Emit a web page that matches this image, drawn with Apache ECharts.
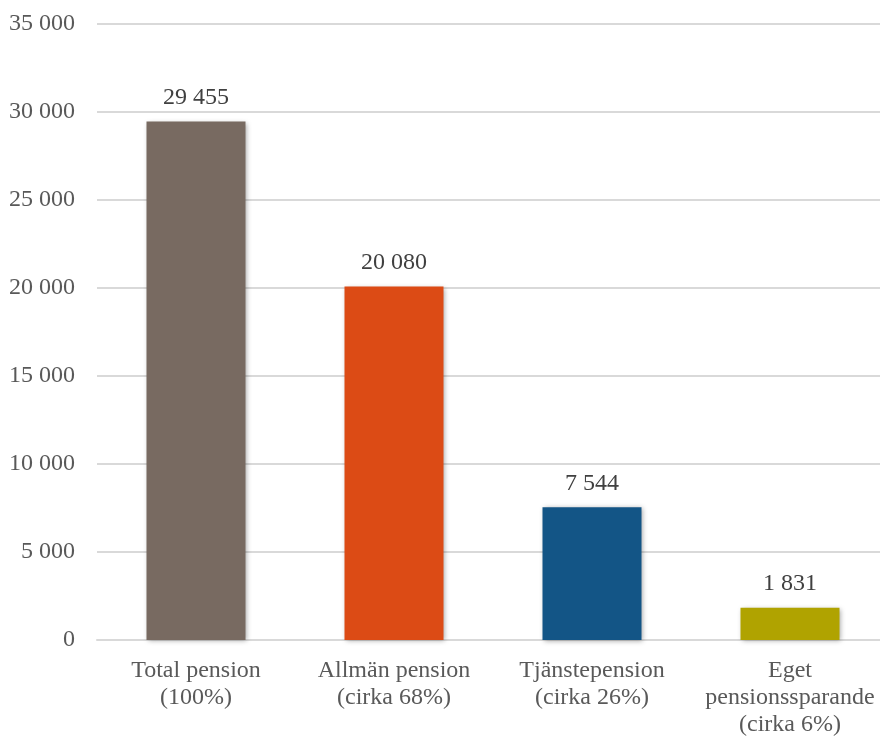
<!DOCTYPE html>
<html>
<head>
<meta charset="utf-8">
<script src="https://cdn.jsdelivr.net/npm/echarts@6/dist/echarts.min.js"></script>
<style>
  html, body { margin: 0; padding: 0; background: #ffffff; }
  #chart { width: 880px; height: 736px; }
</style>
</head>
<body>
<div id="chart"></div>
<script>
// Pension composition, SEK per month
const categories = [
  'Total pension\n(100%)',
  'Allmän pension\n(cirka 68%)',
  'Tjänstepension\n(cirka 26%)',
  'Eget\npensionssparande\n(cirka 6%)'
];
const values = [29455, 20080, 7544, 1831];
const barColors = ['#786a61', '#dc4b15', '#135586', '#b0a300'];

const yMin = 0;
const yMax = 35000;
const yStep = 5000;

// Swedish thousands separator (space)
function fmt(v) {
  return String(v).replace(/\B(?=(\d{3})+(?!\d))/g, ' ');
}

const font = '"Liberation Serif", "DejaVu Serif", serif';

const chart = echarts.init(document.getElementById('chart'), null, { renderer: 'canvas' });
chart.setOption({
  animation: false,
  backgroundColor: '#ffffff',
  grid: {
    left: 97, top: 24, width: 792, height: 616,
    containLabel: false,
    outerBoundsMode: 'none'
  },
  xAxis: {
    type: 'category',
    data: categories,
    axisLine: { show: true, lineStyle: { color: '#d9d9d9', width: 2 } },
    axisTick: { show: false },
    axisLabel: {
      interval: 0,
      margin: 17,
      color: '#595959',
      fontFamily: font,
      fontSize: 24,
      lineHeight: 27
    }
  },
  yAxis: {
    type: 'value',
    min: yMin,
    max: yMax,
    interval: yStep,
    axisLine: { show: false },
    axisTick: { show: false },
    splitLine: { lineStyle: { color: '#d9d9d9', width: 2 } },
    axisLabel: {
      margin: 22,
      color: '#595959',
      fontFamily: font,
      fontSize: 24,
      formatter: v => fmt(v)
    }
  },
  series: [{
    type: 'bar',
    barWidth: 99,
    data: values.map((v, i) => ({
      value: v,
      itemStyle: { color: barColors[i] }
    })),
    itemStyle: {
      shadowBlur: 5,
      shadowColor: 'rgba(0,0,0,0.35)',
      shadowOffsetX: 1,
      shadowOffsetY: 1
    },
    label: {
      show: true,
      position: 'top',
      distance: 12,
      color: '#404040',
      fontFamily: font,
      fontSize: 24,
      formatter: p => fmt(p.value)
    }
  }]
});
</script>
</body>
</html>
